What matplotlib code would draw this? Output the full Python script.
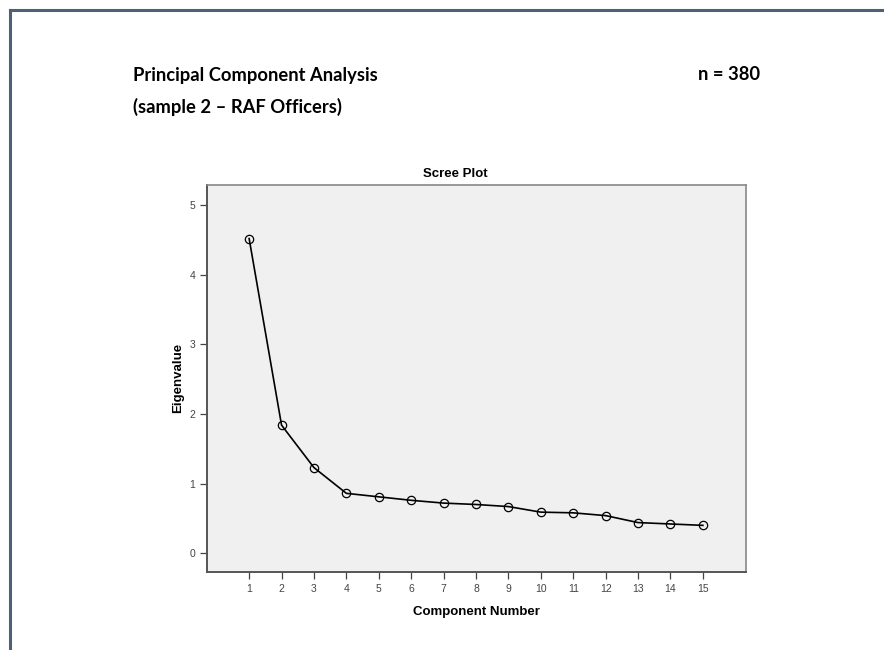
import numpy as np
import matplotlib
matplotlib.use('Agg')
import matplotlib.pyplot as plt
from matplotlib.lines import Line2D

# eigenvalues
components = [1, 2, 3, 4, 5, 6, 7, 8, 9, 10, 11, 12, 13, 14, 15]
eigenvalues = [4.52, 1.84, 1.23, 0.86, 0.81, 0.76, 0.72, 0.70, 0.67,
               0.59, 0.58, 0.54, 0.44, 0.42, 0.40]
y_ticks = [0, 1, 2, 3, 4, 5]

title_lines = ['Principal Component Analysis', '(sample 2 \u2013 RAF Officers)']
n_label = 'n = 380'

W, H = 884, 650
fig = plt.figure(figsize=(W / 100, H / 100), dpi=100)
fig.patch.set_facecolor('white')

# slide frame (top and left edges)
frame_col = '#4b6179'
fig.add_artist(Line2D([10 / W, 1], [1 - 10 / H, 1 - 10 / H], color=frame_col, lw=2.2))
fig.add_artist(Line2D([10 / W, 10 / W], [0, 1 - 10 / H], color=frame_col, lw=2.2))

# slide heading
head_kw = dict(fontsize=13.2, fontweight='bold', family='Lato', va='center', ha='left')
fig.text(133 / W, 1 - 75 / H, title_lines[0], **head_kw)
fig.text(133 / W, 1 - 107 / H, title_lines[1], **head_kw)
fig.text(698 / W, 1 - 75 / H, n_label, **head_kw)

# scree plot axes
left, right, top, bottom = 207, 746, 185, 572
ax = fig.add_axes([left / W, 1 - bottom / H, (right - left) / W, (bottom - top) / H])
ax.set_facecolor('#f0f0f0')

ax.plot(components, eigenvalues, color='black', lw=1.2, marker='o',
        markersize=6, markerfacecolor='none', markeredgecolor='black',
        markeredgewidth=0.9)

ax.set_xlim(-0.3, 16.33)
ax.set_ylim(-0.27, 5.29)
ax.set_xticks(components)
ax.set_yticks(y_ticks)
ax.tick_params(axis='both', labelsize=7.5, colors='#444444', length=5, width=0.9,
               labelcolor='#444444')
for lab in ax.get_xticklabels() + ax.get_yticklabels():
    lab.set_family('Liberation Sans')

for side in ['left', 'bottom']:
    ax.spines[side].set_color('#555555')
    ax.spines[side].set_linewidth(1.4)
for side in ['top', 'right']:
    ax.spines[side].set_color('#888888')
    ax.spines[side].set_linewidth(1.2)

lab_kw = dict(fontsize=9.5, fontweight='bold', family='Liberation Sans',
              ha='center', va='center')
fig.text(455 / W, 1 - 174 / H, 'Scree Plot', **lab_kw)
fig.text(476 / W, 1 - 612 / H, 'Component Number', **lab_kw)
fig.text(178 / W, 1 - 378 / H, 'Eigenvalue', rotation=90, **lab_kw)

fig.savefig('out.png', dpi=100)
